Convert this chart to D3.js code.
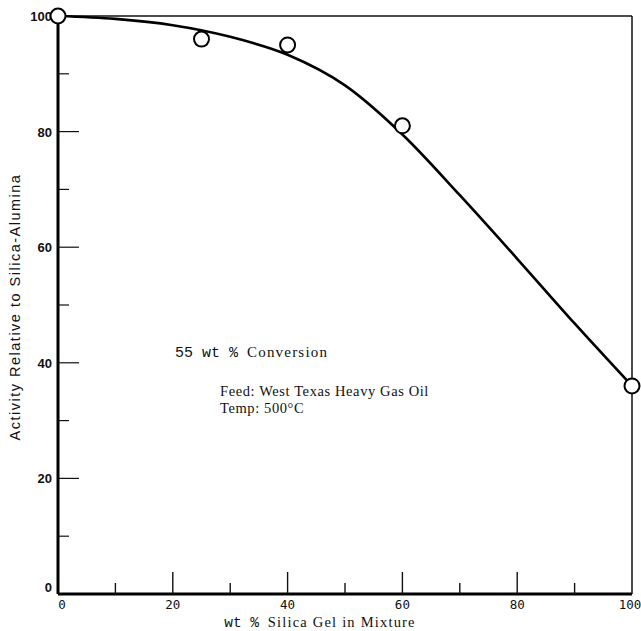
<!DOCTYPE html>
<html>
<head>
<meta charset="utf-8">
<script src="https://cdn.jsdelivr.net/npm/d3@7"></script>
<style>
  body { margin: 0; background: #fff; }
  svg { display: block; }
</style>
</head>
<body>
<div id="chart"></div>
<script>
// measured points (open circles)
var pointX = [0, 25, 40, 60, 100];
var pointY = [100, 96, 95, 81, 36];

// fitted curve
var curveX = [0, 10, 20, 30, 40, 50, 60, 70, 80, 90, 100];
var curveY = [100, 99.5, 98.4, 96.4, 93.3, 88, 79.5, 69, 58, 46.8, 36];

var xMajor = [0, 20, 40, 60, 80, 100];
var xMinor = [10, 30, 50, 70, 90];
var yMajor = [20, 40, 60, 80];
var yMinor = [10, 30, 50, 70, 90];
var yLabels = [0, 20, 40, 60, 80, 100];

(function() {
  var width = 641, height = 631;
  var pL = 58, pR = 632, pT = 16, pB = 594;

  var svg = d3.select("#chart").append("svg")
    .attr("width", width)
    .attr("height", height);

  var x = d3.scaleLinear().domain([0, 100]).range([pL, pR]);
  var y = d3.scaleLinear().domain([0, 100]).range([pB, pT]);

  // frame: heavy left/bottom, thin top/right
  svg.append("line").attr("x1", pL).attr("y1", pT).attr("x2", pR).attr("y2", pT)
    .style("stroke", "#111").style("stroke-width", 1.5);
  svg.append("line").attr("x1", pR).attr("y1", pT).attr("x2", pR).attr("y2", pB)
    .style("stroke", "#111").style("stroke-width", 1.5);
  svg.append("line").attr("x1", pL).attr("y1", pT).attr("x2", pL).attr("y2", pB)
    .style("stroke", "#000").style("stroke-width", 3);
  svg.append("line").attr("x1", pL).attr("y1", pB).attr("x2", pR).attr("y2", pB)
    .style("stroke", "#000").style("stroke-width", 3);

  // ticks point inward
  svg.selectAll(".ymaj").data(yMajor).enter().append("line")
    .attr("x1", pL).attr("x2", pL + 21)
    .attr("y1", function(d) { return y(d); })
    .attr("y2", function(d) { return y(d); })
    .style("stroke", "#111").style("stroke-width", 1.2);
  svg.selectAll(".ymin").data(yMinor).enter().append("line")
    .attr("x1", pL).attr("x2", pL + 11)
    .attr("y1", function(d) { return y(d); })
    .attr("y2", function(d) { return y(d); })
    .style("stroke", "#111").style("stroke-width", 1.2);
  svg.selectAll(".xmaj").data(xMajor.slice(1, 5)).enter().append("line")
    .attr("x1", function(d) { return x(d); })
    .attr("x2", function(d) { return x(d); })
    .attr("y1", pB).attr("y2", pB - 22)
    .style("stroke", "#111").style("stroke-width", 1.4);
  svg.selectAll(".xmin").data(xMinor).enter().append("line")
    .attr("x1", function(d) { return x(d); })
    .attr("x2", function(d) { return x(d); })
    .attr("y1", pB).attr("y2", pB - 11)
    .style("stroke", "#111").style("stroke-width", 1.4);

  // tick labels
  svg.selectAll(".ylab").data(yLabels).enter().append("text")
    .attr("x", pL - 6)
    .attr("y", function(d) { return d === 0 ? y(d) - 2 : y(d) + 5; })
    .attr("text-anchor", "end")
    .style("font-family", "Liberation Sans, Arial, sans-serif")
    .style("font-weight", "bold")
    .style("font-size", "13px")
    .style("fill", "#111")
    .text(function(d) { return d; });

  svg.selectAll(".xlab").data(xMajor).enter().append("text")
    .attr("x", function(d) { return d === 0 ? x(d) + 4 : (d === 100 ? x(d) - 2 : x(d)); })
    .attr("y", 609)
    .attr("text-anchor", "middle")
    .style("font-family", "DejaVu Sans Mono, monospace")
    .style("font-size", "12.5px")
    .style("fill", "#111")
    .text(function(d) { return d; });

  // axis titles
  var xt = svg.append("text")
    .attr("x", 320).attr("y", 627)
    .attr("text-anchor", "middle")
    .style("font-size", "14.5px")
    .style("fill", "#111");
  xt.append("tspan").style("font-family", "Liberation Mono, monospace").text("wt % ");
  xt.append("tspan").style("font-family", "Liberation Serif, serif").style("letter-spacing", "1.2px")
    .text("Silica Gel in Mixture");

  svg.append("text")
    .attr("transform", "translate(20," + 307 + ") rotate(-90)")
    .attr("text-anchor", "middle")
    .style("font-family", "Liberation Sans, Arial, sans-serif")
    .style("font-size", "14.5px")
    .style("letter-spacing", "1.5px")
    .style("fill", "#111")
    .text("Activity Relative to Silica-Alumina");

  // annotations
  var a1 = svg.append("text")
    .attr("x", 175).attr("y", 357)
    .style("font-size", "15px")
    .style("fill", "#111");
  a1.append("tspan").style("font-family", "Liberation Mono, monospace").text("55 wt % ");
  a1.append("tspan").style("font-family", "Liberation Serif, serif").style("letter-spacing", "1.2px")
    .text("Conversion");

  svg.append("text")
    .attr("x", 220).attr("y", 396)
    .style("font-family", "Liberation Serif, serif")
    .style("font-size", "14.5px")
    .style("letter-spacing", "0.6px")
    .style("fill", "#111")
    .text("Feed: West Texas Heavy Gas Oil");
  svg.append("text")
    .attr("x", 220).attr("y", 413)
    .style("font-family", "Liberation Serif, serif")
    .style("font-size", "14.5px")
    .style("letter-spacing", "0.6px")
    .style("fill", "#111")
    .text("Temp: 500\u00B0C");

  // curve
  var line = d3.line()
    .x(function(d, i) { return x(curveX[i]); })
    .y(function(d) { return y(d); })
    .curve(d3.curveMonotoneX);

  svg.append("path")
    .datum(curveY)
    .attr("d", line)
    .style("fill", "none")
    .style("stroke", "#000")
    .style("stroke-width", 2.6);

  // open circles
  svg.selectAll(".pt").data(pointY).enter().append("circle")
    .attr("cx", function(d, i) { return x(pointX[i]); })
    .attr("cy", function(d) { return y(d); })
    .attr("r", 7.5)
    .style("fill", "#fff")
    .style("stroke", "#000")
    .style("stroke-width", 2);
})();
</script>
</body>
</html>
